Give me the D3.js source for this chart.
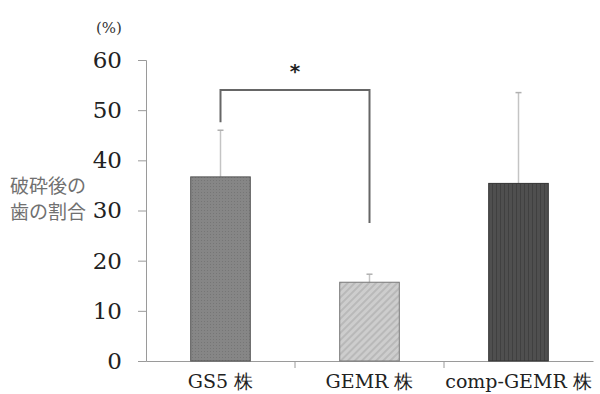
<!DOCTYPE html>
<html lang="ja">
<head>
<meta charset="utf-8" />
<title>破砕後の歯の割合</title>
<script src="https://d3js.org/d3.v7.min.js"></script>
<style>
  body { margin: 0; background: #fff; }
  svg { display: block; }
</style>
</head>
<body>
<svg id="chart" width="600" height="394"></svg>
<script>
const strains = ["GS5 株", "GEMR 株", "comp-GEMR 株"];
const means = [36.7, 15.7, 35.4];
const errors = [9.3, 1.6, 18.1];
const yTicks = [0, 10, 20, 30, 40, 50, 60];
const fills = ["url(#patGS5)", "url(#patGEMR)", "url(#patComp)"];

const svg = d3.select("#chart");
const x = d3.scaleBand().domain(strains).range([146, 593]).paddingInner(0.6).paddingOuter(0.3);
const y = d3.scaleLinear().domain([0, 60]).range([361, 60]);
const serif = "'DejaVu Serif', 'Liberation Serif', serif";

// hatching patterns for the bars
const defs = svg.append("defs");
const p1 = defs.append("pattern").attr("id", "patGS5").attr("patternUnits", "userSpaceOnUse")
  .attr("width", 3).attr("height", 3);
p1.append("rect").attr("width", 3).attr("height", 3).attr("fill", "#868686");
p1.append("rect").attr("width", 1).attr("height", 1).attr("fill", "#767676");

const p2 = defs.append("pattern").attr("id", "patGEMR").attr("patternUnits", "userSpaceOnUse")
  .attr("width", 5).attr("height", 5).attr("patternTransform", "rotate(45)");
p2.append("rect").attr("width", 5).attr("height", 5).attr("fill", "#cdcdcd");
p2.append("rect").attr("width", 2).attr("height", 5).attr("fill", "#b9b9b9");

const p3 = defs.append("pattern").attr("id", "patComp").attr("patternUnits", "userSpaceOnUse")
  .attr("width", 4).attr("height", 4);
p3.append("rect").attr("width", 4).attr("height", 4).attr("fill", "#4f4f4f");
p3.append("rect").attr("width", 1).attr("height", 4).attr("fill", "#404040");

// y axis
const yAxis = svg.append("g").attr("transform", "translate(146,0)")
  .call(d3.axisLeft(y).tickValues(yTicks).tickSize(8).tickPadding(16));
yAxis.select(".domain").attr("stroke", "#9a9a9a");
yAxis.selectAll(".tick line").attr("stroke", "#9a9a9a");
yAxis.selectAll(".tick text").attr("font-family", serif).attr("font-size", 23).attr("fill", "#222");

// x axis
const xAxis = svg.append("g").attr("transform", "translate(0,361)")
  .call(d3.axisBottom(x).tickSize(0).tickPadding(14));
xAxis.select(".domain").attr("stroke", "#9a9a9a");
xAxis.selectAll(".tick text").attr("font-family", serif).attr("font-size", 19).attr("fill", "#222");
// category separators
const bounds = strains.slice(1).map(s => x(s) - x.step() * x.paddingInner() / 2);
svg.selectAll(".sep").data(bounds).join("line")
  .attr("x1", d => d).attr("x2", d => d).attr("y1", 361).attr("y2", 368)
  .attr("stroke", "#9a9a9a");

// error bars (drawn first, behind bars)
const cx = d => x(d) + x.bandwidth() / 2;
svg.selectAll(".err").data(strains).join("line")
  .attr("x1", cx).attr("x2", cx)
  .attr("y1", (d, i) => y(means[i])).attr("y2", (d, i) => y(means[i] + errors[i]))
  .attr("stroke", "#c4c4c4").attr("stroke-width", 1.5);
svg.selectAll(".cap").data(strains).join("line")
  .attr("x1", d => cx(d) - 3).attr("x2", d => cx(d) + 3)
  .attr("y1", (d, i) => y(means[i] + errors[i])).attr("y2", (d, i) => y(means[i] + errors[i]))
  .attr("stroke", "#b0b0b0").attr("stroke-width", 1.5);

// bars
svg.selectAll(".bar").data(strains).join("rect")
  .attr("x", d => x(d)).attr("width", x.bandwidth())
  .attr("y", (d, i) => y(means[i])).attr("height", (d, i) => y(0) - y(means[i]))
  .attr("fill", (d, i) => fills[i])
  .attr("stroke", (d, i) => ["#555", "#777", "#333"][i]).attr("stroke-width", 1);

// significance bracket
const bx1 = cx(strains[0]), bx2 = cx(strains[1]);
svg.append("path")
  .attr("d", `M${bx1},${y(46) - 8}V${y(54)}H${bx2}V${y(27.5)}`)
  .attr("fill", "none").attr("stroke", "#666").attr("stroke-width", 2);
svg.append("text").attr("x", (bx1 + bx2) / 2).attr("y", 78)
  .attr("text-anchor", "middle").attr("font-family", "DejaVu Sans, sans-serif")
  .attr("font-size", 20).attr("font-weight", "bold").attr("fill", "#222").text("*");

// unit and axis title
svg.append("text").attr("x", 109).attr("y", 33).attr("text-anchor", "middle")
  .attr("font-family", serif).attr("font-size", 15).attr("fill", "#333").text("(%)");
const title = svg.append("text")
  .attr("font-family", "'Noto Sans CJK JP', sans-serif").attr("font-size", 19).attr("fill", "#707070");
title.append("tspan").attr("x", 10).attr("y", 193).text("破砕後の");
title.append("tspan").attr("x", 10).attr("y", 219).text("歯の割合");
</script>
</body>
</html>
